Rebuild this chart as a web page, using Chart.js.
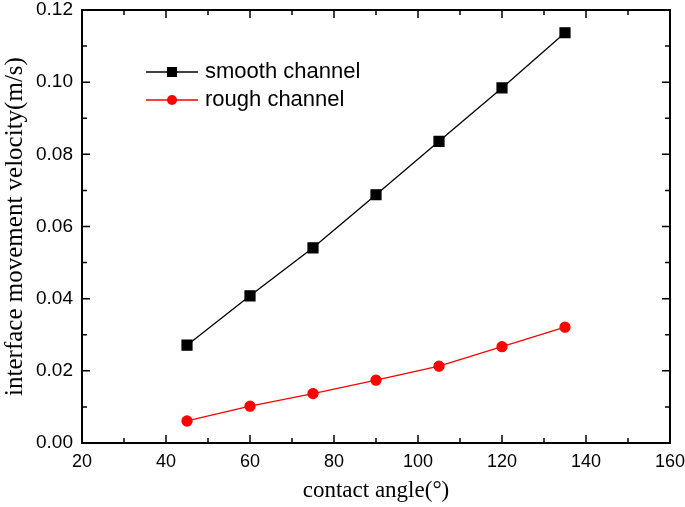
<!DOCTYPE html>
<html>
<head>
<meta charset="utf-8">
<script src="https://cdn.jsdelivr.net/npm/chart.js@4.4.0/dist/chart.umd.min.js"></script>
<style>
  html, body { margin: 0; padding: 0; background: #fff; }
  #wrap { width: 685px; height: 507px; position: relative; }
</style>
</head>
<body>
<div id="wrap"><canvas id="c"></canvas></div>
<script>
// contact angle (deg)
const angles = [45, 60, 75, 90, 105, 120, 135];
const smoothVel = [0.0271, 0.0408, 0.0541, 0.0688, 0.0836, 0.0984, 0.1137];
const roughVel = [0.0061, 0.0102, 0.0137, 0.0174, 0.0213, 0.0267, 0.0321];
const seriesNames = ['smooth channel', 'rough channel'];
const xTitle = 'contact angle(\u00B0)';
const yTitle = 'interface movement velocity(m/s)';

const SANS = 'Arial, "Liberation Sans", sans-serif';
const SERIF = '"Times New Roman", "Liberation Serif", serif';

// inward ticks on all four sides, like the original plotting tool
const frameTicks = {
  id: 'frameTicks',
  afterDraw(chart) {
    const { ctx, chartArea: a, scales } = chart;
    ctx.save();
    ctx.strokeStyle = '#000';
    ctx.lineWidth = 1.5;
    ctx.beginPath();
    for (let v = 20; v <= 160; v += 10) {
      const px = scales.x.getPixelForValue(v);
      const len = (v % 20 === 0) ? 8 : 5;
      ctx.moveTo(px, a.bottom); ctx.lineTo(px, a.bottom - len);
      ctx.moveTo(px, a.top); ctx.lineTo(px, a.top + len);
    }
    for (let i = 0; i <= 12; i++) {
      const py = scales.y.getPixelForValue(i * 0.01);
      const len = (i % 2 === 0) ? 8 : 5;
      ctx.moveTo(a.left, py); ctx.lineTo(a.left + len, py);
      ctx.moveTo(a.right, py); ctx.lineTo(a.right - len, py);
    }
    ctx.stroke();
    ctx.lineWidth = 2;
    ctx.strokeRect(a.left, a.top, a.right - a.left, a.bottom - a.top);
    ctx.restore();
  }
};

// legend box inside the plot
const insideLegend = {
  id: 'insideLegend',
  afterDraw(chart) {
    const { ctx } = chart;
    ctx.save();
    chart.data.datasets.forEach((ds, i) => {
      const y = 72 + i * 28;
      ctx.strokeStyle = ds.borderColor;
      ctx.lineWidth = 1.5;
      ctx.beginPath();
      ctx.moveTo(146, y); ctx.lineTo(198, y);
      ctx.stroke();
      ctx.fillStyle = ds.pointBackgroundColor;
      if (ds.pointStyle === 'rect') {
        ctx.fillRect(172 - 5, y - 5, 10, 10);
      } else {
        ctx.beginPath(); ctx.arc(172, y, 5, 0, Math.PI * 2); ctx.fill();
      }
      ctx.fillStyle = '#000';
      ctx.font = '22px ' + SANS;
      ctx.textBaseline = 'middle';
      ctx.fillText(ds.label, 205, y);
    });
    ctx.restore();
  }
};

new Chart(document.getElementById('c'), {
  type: 'line',
  data: {
    labels: angles,
    datasets: [
      {
        label: seriesNames[0],
        data: angles.map((a, i) => ({ x: a, y: smoothVel[i] })),
        borderColor: '#000',
        backgroundColor: '#000',
        pointBackgroundColor: '#000',
        pointBorderColor: '#000',
        pointStyle: 'rect',
        pointRadius: 7,
        borderWidth: 1.3,
        tension: 0
      },
      {
        label: seriesNames[1],
        data: angles.map((a, i) => ({ x: a, y: roughVel[i] })),
        borderColor: '#ff0000',
        backgroundColor: '#ff0000',
        pointBackgroundColor: '#ff0000',
        pointBorderColor: '#ff0000',
        pointStyle: 'circle',
        pointRadius: 5,
        borderWidth: 1.3,
        tension: 0
      }
    ]
  },
  options: {
    responsive: true,
    maintainAspectRatio: false,
    animation: false,
    events: [],
    layout: { padding: { top: 10, right: 15, left: 0, bottom: 0 } },
    plugins: { legend: { display: false }, tooltip: { enabled: false } },
    scales: {
      x: {
        type: 'linear',
        min: 20, max: 160,
        grid: { display: false, drawTicks: false },
        border: { display: false },
        ticks: { stepSize: 20, padding: 8, color: '#000', font: { family: SANS, size: 18 } },
        title: { display: true, text: xTitle, color: '#000', font: { family: SERIF, size: 23 }, padding: { top: 0, bottom: 2 } },
        afterFit(s) { s.height = 64; s.paddingLeft = 0; s.paddingRight = 0; }
      },
      y: {
        type: 'linear',
        min: 0, max: 0.12,
        grid: { display: false, drawTicks: false },
        border: { display: false },
        ticks: { stepSize: 0.02, padding: 9, color: '#000', font: { family: SANS, size: 19 }, callback: v => v.toFixed(2) },
        title: { display: true, text: yTitle, color: '#000', font: { family: SERIF, size: 25 }, padding: { top: 0, bottom: 0 } },
        afterFit(s) { s.width = 82; s.paddingTop = 0; s.paddingBottom = 0; }
      }
    }
  },
  plugins: [frameTicks, insideLegend]
});
</script>
</body>
</html>
